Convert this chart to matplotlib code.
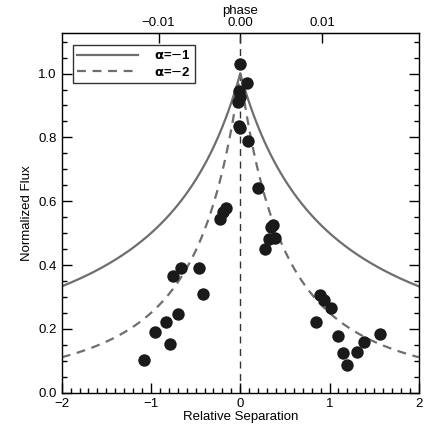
import numpy as np
import matplotlib.pyplot as plt
from matplotlib.ticker import MultipleLocator

plt.rcParams['font.family'] = ['Liberation Sans', 'DejaVu Sans']
plt.rcParams['font.size'] = 9.5

# measured points (relative separation, normalized flux)
sep = [0.0, 0.07, -0.01, 0.0, -0.02, 0.0, -0.01, 0.09, 0.2,
       -0.23, -0.19, -0.16,
       -0.66, -0.75, -0.46, -0.42, -0.70, -0.83, -0.95, -0.79, -1.08,
       0.37, 0.34, 0.32, 0.39, 0.28,
       0.89, 0.94, 1.02, 0.85, 1.10, 1.56, 1.39, 1.15, 1.31, 1.19]
flux = [1.03, 0.97, 0.945, 0.925, 0.91, 0.83, 0.835, 0.79, 0.64,
        0.545, 0.565, 0.58,
        0.39, 0.366, 0.39, 0.31, 0.248, 0.222, 0.191, 0.153, 0.104,
        0.527, 0.52, 0.482, 0.486, 0.45,
        0.306, 0.292, 0.266, 0.223, 0.179, 0.185, 0.16, 0.124, 0.127, 0.088]

# model power-law indices
alphas = [-1, -2]
styles = ['-', (0, (4, 3))]
phase_ticks = [-0.01, 0.0, 0.01]
phase_per_sep = 0.01 / 0.915

fig = plt.figure(figsize=(4.30, 4.33), dpi=100)
ax = fig.add_axes([0.1435, 0.093, 0.8305, 0.8315])

xx = np.linspace(-2, 2, 801)
for a, ls in zip(alphas, styles):
    ax.plot(xx, (1 + np.abs(xx)) ** a, color='#6e6e6e', lw=1.6, ls=ls,
            label=r'$\mathbf{\alpha}$=$-$%d' % -a)

ax.axvline(0, color='#333333', lw=1.0, ls=(0, (5, 4)), zorder=1)
ax.scatter(sep, flux, s=80, color='#1a1a1a', zorder=3, linewidths=0)

ax.set_xlim(-2, 2)
ax.set_ylim(0, 1.128)
ax.xaxis.set_major_locator(MultipleLocator(1))
ax.xaxis.set_minor_locator(MultipleLocator(0.1))
ax.yaxis.set_major_locator(MultipleLocator(0.2))
ax.yaxis.set_minor_locator(MultipleLocator(0.05))
ax.xaxis.set_major_formatter(plt.FuncFormatter(lambda v, p: ('%d' % v).replace('-', '\u2212')))
ax.yaxis.set_major_formatter(plt.FuncFormatter(lambda v, p: '%.1f' % v))
ax.tick_params(which='both', direction='in', top=False, right=True, width=1.0)
ax.tick_params(which='major', length=7)
ax.tick_params(which='minor', length=3.5)
for s in ax.spines.values():
    s.set_linewidth(1.0)

ax.set_xlabel('Relative Separation', labelpad=1)
ax.set_ylabel('Normalized Flux', labelpad=4)

top = ax.secondary_xaxis('top', functions=(lambda x: x * phase_per_sep,
                                           lambda p: p / phase_per_sep))
top.set_xticks(phase_ticks)
top.xaxis.set_major_formatter(plt.FuncFormatter(lambda v, p: ('%.2f' % v).replace('-', '\u2212')))
top.tick_params(direction='in', length=7, width=1.0, pad=2.5)
top.set_xlabel('phase', labelpad=2.5)

leg = ax.legend(loc='upper left', bbox_to_anchor=(0.012, 0.985), frameon=True,
                fancybox=False, edgecolor='black', handlelength=4.6,
                borderpad=0.35, labelspacing=0.25, handletextpad=1.2)
leg.get_frame().set_linewidth(1.0)
for t in leg.get_texts():
    t.set_fontweight('bold')

fig.savefig('out.png', dpi=100)
